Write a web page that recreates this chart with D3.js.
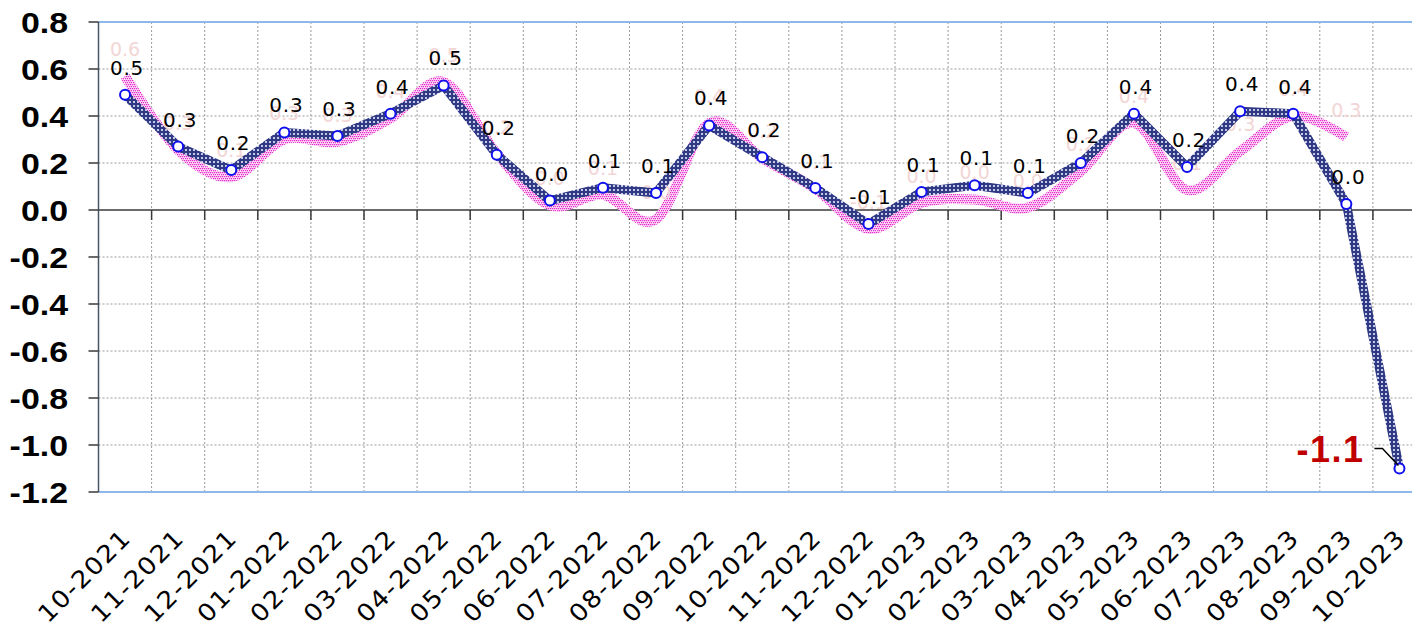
<!DOCTYPE html>
<html>
<head>
<meta charset="utf-8">
<script src="https://cdn.jsdelivr.net/npm/d3@7"></script>
<style>
  html, body { margin: 0; padding: 0; background: #ffffff; }
  svg { display: block; }
</style>
</head>
<body>
<svg id="chart" width="1412" height="631"></svg>
<script>
// ---- data ----
const categories = ["10-2021","11-2021","12-2021","01-2022","02-2022","03-2022","04-2022","05-2022","06-2022","07-2022","08-2022","09-2022","10-2022","11-2022","12-2022","01-2023","02-2023","03-2023","04-2023","05-2023","06-2023","07-2023","08-2023","09-2023","10-2023"];
const mainValues = [0.49,0.27,0.17,0.33,0.315,0.41,0.53,0.235,0.04,0.095,0.072,0.36,0.225,0.094,-0.06,0.077,0.105,0.072,0.20,0.41,0.183,0.42,0.41,0.026,-1.10];
const pinkValues = [0.57,0.255,0.14,0.30,0.29,0.39,0.545,0.24,0.02,0.065,-0.04,0.37,0.22,0.09,-0.08,0.03,0.045,0.01,0.165,0.37,0.085,0.25,0.40,0.31];
const yTicks = [0.8,0.6,0.4,0.2,0.0,-0.2,-0.4,-0.6,-0.8,-1.0,-1.2];

// ---- layout ----
const svg = d3.select("#chart");
const mLeft = 98.5, mTop = 22, mBottom = 492, band = 53.1;
const x = d3.scaleBand().domain(categories).range([mLeft, mLeft + band * categories.length]).padding(0);
const y = d3.scaleLinear().domain([-1.2, 0.8]).range([mBottom, mTop]);
const cx = d => x(d) + x.bandwidth() / 2;
const fmt = v => { const r = Math.round(v * 10) / 10; return (r === 0 ? 0 : r).toFixed(1); };

// patterns for textured lines
const defs = svg.append("defs");
const pb = defs.append("pattern").attr("id", "bluetex").attr("patternUnits", "userSpaceOnUse").attr("width", 4).attr("height", 4);
pb.append("rect").attr("width", 4).attr("height", 4).attr("fill", "#303a84");
pb.append("rect").attr("x", 1).attr("y", 1).attr("width", 2).attr("height", 2).attr("fill", "#b8bde0");
pb.append("rect").attr("x", 1.5).attr("y", 1.5).attr("width", 1).attr("height", 1).attr("fill", "#e8eaf8");
const pp = defs.append("pattern").attr("id", "pinktex").attr("patternUnits", "userSpaceOnUse").attr("width", 4).attr("height", 4);
pp.append("rect").attr("width", 4).attr("height", 4).attr("fill", "#fde8fa");
[[0,0],[2,0],[1,2],[3,2]].forEach(([a, b]) =>
  pp.append("rect").attr("x", a).attr("y", b).attr("width", 1.3).attr("height", 1.3).attr("fill", "#e828cc"));

const g = svg.append("g");

// horizontal grid
g.selectAll("line.hg").data(yTicks.filter(t => t !== 0.8 && t !== -1.2 && t !== 0))
  .join("line").attr("class", "hg")
  .attr("x1", mLeft).attr("x2", 1412)
  .attr("y1", d => y(d)).attr("y2", d => y(d))
  .attr("stroke", "#9a9a9a").attr("stroke-width", 1).attr("stroke-dasharray", "2,2");

// vertical grid at band boundaries
const bounds = categories.slice(1).map(c => x(c));
g.selectAll("line.vg").data(bounds).join("line").attr("class", "vg")
  .attr("x1", d => d).attr("x2", d => d).attr("y1", mTop).attr("y2", mBottom)
  .attr("stroke", "#9a9a9a").attr("stroke-width", 1).attr("stroke-dasharray", "2,2");

// top/bottom border
g.append("line").attr("x1", mLeft).attr("x2", 1412).attr("y1", mTop).attr("y2", mTop).attr("stroke", "#8fb8ea").attr("stroke-width", 2);
g.append("line").attr("x1", mLeft).attr("x2", 1412).attr("y1", mBottom).attr("y2", mBottom).attr("stroke", "#8fb8ea").attr("stroke-width", 2);

// zero line and ticks
g.append("line").attr("x1", mLeft).attr("x2", 1412).attr("y1", y(0)).attr("y2", y(0)).attr("stroke", "#3a3a3a").attr("stroke-width", 1.5);
g.selectAll("line.zt").data(bounds).join("line").attr("class", "zt")
  .attr("x1", d => d).attr("x2", d => d).attr("y1", y(0)).attr("y2", y(0) + 10)
  .attr("stroke", "#3a3a3a").attr("stroke-width", 1.5);

// y axis
g.append("line").attr("x1", mLeft).attr("x2", mLeft).attr("y1", mTop).attr("y2", mBottom).attr("stroke", "#4a5564").attr("stroke-width", 1.5);
g.selectAll("line.yt").data(yTicks).join("line").attr("class", "yt")
  .attr("x1", mLeft - 10).attr("x2", mLeft).attr("y1", d => y(d)).attr("y2", d => y(d))
  .attr("stroke", "#3a3a3a").attr("stroke-width", 1.5);
g.selectAll("text.yl").data(yTicks).join("text").attr("class", "yl")
  .attr("transform", d => `translate(68,${y(d)}) scale(1.13,1)`)
  .attr("text-anchor", "end").attr("dy", "0.36em")
  .attr("font-family", "'Liberation Sans', Arial, sans-serif").attr("font-weight", "bold")
  .attr("font-size", 30).attr("fill", "#000")
  .text(d => d.toFixed(1));

// x labels
g.selectAll("text.xl").data(categories).join("text").attr("class", "xl")
  .attr("transform", d => `translate(${cx(d) - 5},${mBottom + 35}) rotate(-45) scale(1.1,1)`)
  .attr("text-anchor", "end").attr("dominant-baseline", "hanging")
  .attr("font-family", "'DejaVu Sans', sans-serif").attr("font-size", 24)
  .attr("letter-spacing", 1.2)
  .attr("fill", "#000")
  .text(d => d);

// pink smoothed line
const pinkData = pinkValues.map((v, i) => [cx(categories[i]), y(v)]);
g.append("path").attr("d", d3.line().curve(d3.curveCatmullRom.alpha(0))(pinkData))
  .attr("fill", "none").attr("stroke", "url(#pinktex)").attr("stroke-width", 10)
  .attr("stroke-linejoin", "round").attr("stroke-linecap", "butt");

// pink labels
g.selectAll("text.pl").data(pinkValues).join("text").attr("class", "pl")
  .attr("x", (v, i) => cx(categories[i])).attr("y", v => y(v) - 20)
  .attr("text-anchor", "middle")
  .attr("font-family", "'DejaVu Sans', sans-serif").attr("font-size", 19)
  .attr("fill", "#f2d6d6")
  .text(v => fmt(v));

// main line
const mainData = mainValues.map((v, i) => [cx(categories[i]), y(v)]);
g.append("path").attr("d", d3.line()(mainData))
  .attr("fill", "none").attr("stroke", "url(#bluetex)").attr("stroke-width", 9)
  .attr("stroke-linejoin", "round");

// markers
g.selectAll("circle.m").data(mainValues).join("circle").attr("class", "m")
  .attr("cx", (v, i) => cx(categories[i])).attr("cy", v => y(v)).attr("r", 5)
  .attr("fill", "#fff").attr("stroke", "#1010ee").attr("stroke-width", 2);

// main labels (all but last)
const nLast = mainValues.length - 1;
g.selectAll("text.ml").data(mainValues.slice(0, nLast)).join("text").attr("class", "ml")
  .attr("x", (v, i) => cx(categories[i]) + 2).attr("y", v => y(v) - 20)
  .attr("text-anchor", "middle")
  .attr("font-family", "'DejaVu Sans', sans-serif").attr("font-size", 20)
  .attr("letter-spacing", 0.8)
  .attr("fill", "#000")
  .text(v => fmt(v));

// last label with leader line
const lx = cx(categories[nLast]), ly = y(mainValues[nLast]);
g.append("path").attr("d", `M${lx - 25},${ly - 20}L${lx - 17},${ly - 20}L${lx - 1},${ly - 3}`)
  .attr("fill", "none").attr("stroke", "#000").attr("stroke-width", 1.5);
g.append("text").attr("x", lx - 35).attr("y", ly - 7).attr("text-anchor", "end")
  .attr("font-family", "'Liberation Sans', Arial, sans-serif").attr("font-weight", "bold")
  .attr("font-size", 36).attr("letter-spacing", 1.5).attr("fill", "#c00000")
  .text(fmt(mainValues[nLast]));
</script>
</body>
</html>
